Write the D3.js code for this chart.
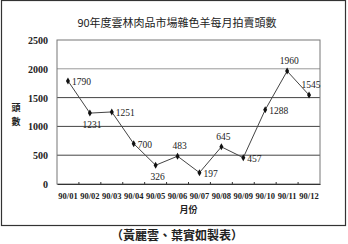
<!DOCTYPE html>
<html>
<head>
<meta charset="utf-8">
<script src="https://cdn.jsdelivr.net/npm/d3@7"></script>
<style>
  body { margin: 0; background: #fff; }
  text { font-family: "Liberation Serif", "Noto Sans CJK TC", serif; }
  .cjk { font-family: "Noto Sans CJK TC", sans-serif; }
</style>
</head>
<body>
<script>
// Chart data
const months = ['90/01', '90/02', '90/03', '90/04', '90/05', '90/06', '90/07', '90/08', '90/09', '90/10', '90/11', '90/12'];
const heads = [1790, 1231, 1251, 700, 326, 483, 197, 645, 457, 1288, 1960, 1545];
const labelPos = ['right', 'below', 'right', 'right', 'below', 'above', 'right', 'above', 'right', 'right', 'above', 'above'];
const yTicks = [0, 500, 1000, 1500, 2000, 2500];
const yTitleChars = ['頭', '數'];

const W = 348, H = 244;
const margin = { top: 40, right: 28, bottom: 60, left: 57 };
const width = W - margin.left - margin.right;
const height = H - margin.top - margin.bottom;

const svg = d3.select('body')
  .append('svg')
  .attr('width', W)
  .attr('height', H);

// outer frame
svg.append('rect')
  .attr('x', 1.5).attr('y', 0.5)
  .attr('width', 344).attr('height', 225)
  .attr('fill', 'none')
  .attr('stroke', '#333')
  .attr('stroke-width', 1.2);

// title
svg.append('text')
  .attr('class', 'cjk')
  .attr('x', 177).attr('y', 27)
  .attr('text-anchor', 'middle')
  .style('font-size', '11px')
  .attr('fill', '#222')
  .text('90年度雲林肉品市場雜色羊每月拍賣頭數');

const g = svg.append('g')
  .attr('transform', `translate(${margin.left},${margin.top})`);

const x = d3.scaleBand()
  .domain(months)
  .range([0, width]);

const y = d3.scaleLinear()
  .domain([0, 2500])
  .range([height, 0]);

// gridlines
g.selectAll('.grid')
  .data(yTicks.filter(d => d > 0 && d < 2500))
  .enter().append('line')
  .attr('x1', 0).attr('x2', width)
  .attr('y1', d => y(d)).attr('y2', d => y(d))
  .attr('stroke', d => d === 2000 ? '#999' : '#444')
  .attr('stroke-width', 1);

// plot frame
g.append('rect')
  .attr('x', 0).attr('y', 0)
  .attr('width', width).attr('height', height)
  .attr('fill', 'none')
  .attr('stroke', '#777')
  .attr('stroke-width', 1);

// y axis labels
g.selectAll('.ylab')
  .data(yTicks)
  .enter().append('text')
  .attr('x', -9)
  .attr('y', d => y(d) + 4)
  .attr('text-anchor', 'end')
  .style('font-size', '10px')
  .style('font-weight', 'bold')
  .attr('fill', '#222')
  .text(d => d);

// x axis
const xAxis = g.append('g')
  .attr('transform', `translate(0,${height})`)
  .call(d3.axisBottom(x).tickSize(0).tickPadding(9));
xAxis.select('.domain').attr('stroke', '#333');
xAxis.selectAll('text')
  .style('font-family', '"Liberation Serif", serif')
  .style('font-size', '8.5px')
  .style('font-weight', 'bold')
  .attr('fill', '#222');

// ticks between categories
g.selectAll('.xtick')
  .data(months.slice(1))
  .enter().append('line')
  .attr('x1', d => x(d)).attr('x2', d => x(d))
  .attr('y1', height).attr('y2', height - 2)
  .attr('stroke', '#333');

// axis titles
svg.selectAll('.ytitle')
  .data(yTitleChars)
  .enter().append('text')
  .attr('class', 'cjk')
  .attr('x', 16)
  .attr('y', (d, i) => 111 + i * 14)
  .attr('text-anchor', 'middle')
  .style('font-size', '9px')
  .style('font-weight', 'bold')
  .attr('fill', '#222')
  .text(d => d);

svg.append('text')
  .attr('class', 'cjk')
  .attr('x', margin.left + width / 2).attr('y', 213)
  .attr('text-anchor', 'middle')
  .style('font-size', '9px')
  .style('font-weight', 'bold')
  .attr('fill', '#222')
  .text('月份');

// line
const line = d3.line()
  .x((d, i) => x(months[i]) + x.bandwidth() / 2)
  .y(d => y(d));

g.append('path')
  .datum(heads)
  .attr('d', line)
  .attr('fill', 'none')
  .attr('stroke', '#444')
  .attr('stroke-width', 1);

// diamond markers
g.selectAll('.pt')
  .data(heads)
  .enter().append('path')
  .attr('d', d3.symbol(d3.symbolDiamond, 14))
  .attr('transform', (d, i) => `translate(${x(months[i]) + x.bandwidth() / 2},${y(d)})`)
  .attr('fill', '#111');

// value labels
g.selectAll('.val')
  .data(heads)
  .enter().append('text')
  .attr('x', (d, i) => {
    const cx = x(months[i]) + x.bandwidth() / 2;
    return labelPos[i] === 'right' ? cx + 4 : cx + 2;
  })
  .attr('y', (d, i) => {
    const cy = y(d);
    if (labelPos[i] === 'above') return cy - 7;
    if (labelPos[i] === 'below') return cy + 15;
    return cy + 4;
  })
  .attr('text-anchor', (d, i) => labelPos[i] === 'right' ? 'start' : 'middle')
  .style('font-size', '9.5px')
  .attr('fill', '#222')
  .text(d => d);

// caption
svg.append('text')
  .attr('class', 'cjk')
  .attr('x', 177).attr('y', 240)
  .attr('text-anchor', 'middle')
  .style('font-size', '12px')
  .style('font-weight', 'bold')
  .attr('fill', '#222')
  .text('（黃麗雲、葉實如製表）');
</script>
</body>
</html>
